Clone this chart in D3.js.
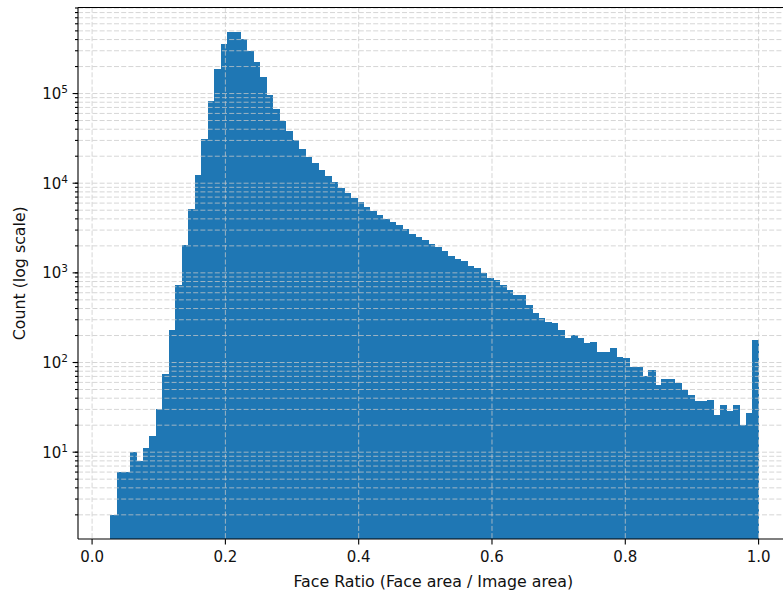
<!DOCTYPE html>
<html>
<head>
<meta charset="utf-8">
<script src="https://cdn.jsdelivr.net/npm/d3@7"></script>
<style>
body { margin:0; background:#fff; }
svg { display:block; font-family:"DejaVu Sans", sans-serif; }
.gridLine { stroke:#c8c8c8; stroke-opacity:0.75; stroke-width:1; stroke-dasharray:5,2.2; fill:none; }
.spine { stroke:#000; stroke-width:1.1; fill:none; }
.tick-mark { stroke:#000; stroke-width:1.1; }
.tickText { font-size:15px; fill:#111; }
.axisLabel { font-size:15.8px; fill:#111; }
.bar { fill:#1f77b4; shape-rendering:crispEdges; }
</style>
</head>
<body>
<div id="chart"></div>
<script>
/* histogram of face ratio, 100 bins, counts */
var binStart = 0.0275
var binEnd = 1.0
var counts = [
  2, 6, 6, 10, 8, 11, 15, 30, 75, 230,
  730, 2040, 5100, 12500, 31500, 82000, 190000, 354000, 490000, 485000,
  402000, 296000, 225000, 151000, 95700, 67500, 49500, 38000, 30200, 23800,
  19700, 17000, 14200, 12000, 10300, 8880, 7810, 6760, 6100, 5450,
  4920, 4400, 3970, 3650, 3380, 3050, 2710, 2500, 2300, 2090,
  1950, 1760, 1540, 1440, 1350, 1190, 1120, 1000, 870, 830,
  730, 645, 566, 560, 443, 354, 314, 285, 276, 230,
  186, 205, 186, 164, 171, 132, 131, 144, 116, 111,
  89, 88, 71, 83, 56, 65, 65, 59, 50, 43,
  37, 37, 38, 26, 34, 29, 34, 20, 27, 178
]
var xTicks = [0.0, 0.2, 0.4, 0.6, 0.8, 1.0]
var xTickLabels = ["0.0", "0.2", "0.4", "0.6", "0.8", "1.0"]
var yDecades = [1, 2, 3, 4, 5]
var xTitle = "Face Ratio (Face area / Image area)"
var yTitle = "Count (log scale)"

var W = 783
var H = 592
var plotLeft = 78
var plotRight = 791
var plotTop = 7.5
var plotBottom = 539

var svg = d3.select("#chart").append("svg")
  .attr("width", W)
  .attr("height", H)

/* scales: matplotlib style 5% margins */
var nBins = counts.length
var edgeScale = d3.scaleLinear()
  .domain([0, nBins])
  .range([binStart, binEnd])
var xPad = (binEnd - binStart) * 0.05
var xScale = d3.scaleLinear()
  .domain([binStart - xPad, binEnd + xPad])
  .range([plotLeft, plotRight])

var logMin = Math.log10(d3.min(counts))
var logMax = Math.log10(d3.max(counts))
var logPad = (logMax - logMin) * 0.05
var yScale = d3.scaleLog()
  .domain([Math.pow(10, logMin - logPad), Math.pow(10, logMax + logPad)])
  .range([plotBottom, plotTop])

function barX(d, i) { return xScale(edgeScale(i)) }
function barW(d, i) { return xScale(edgeScale(i + 1)) - xScale(edgeScale(i)) }
function barY(d) { return yScale(d) }
function barH(d) { return plotBottom - yScale(d) }

/* bars */
svg.append("g")
  .selectAll("rect")
  .data(counts)
  .enter()
  .append("rect")
  .attr("class", "bar")
  .attr("x", barX)
  .attr("width", function(d, i) { return barW(d, i) + 0.8 })
  .attr("y", barY)
  .attr("height", barH)

/* grid, drawn over the bars */
var yDom = yScale.domain()
var yGridVals = []
d3.range(0, 7).forEach(function(k) {
  d3.range(1, 10).forEach(function(m) {
    var v = m * Math.pow(10, k)
    if (v >= yDom[0] && v <= yDom[1]) yGridVals.push(v)
  })
})

var gridG = svg.append("g")
gridG.selectAll("line.hz")
  .data(yGridVals)
  .enter()
  .append("line")
  .attr("class", "gridLine hz")
  .attr("x1", plotLeft)
  .attr("x2", plotRight)
  .attr("y1", function(d) { return yScale(d) })
  .attr("y2", function(d) { return yScale(d) })
gridG.selectAll("line.vt")
  .data(xTicks)
  .enter()
  .append("line")
  .attr("class", "gridLine vt")
  .attr("x1", function(d) { return xScale(d) })
  .attr("x2", function(d) { return xScale(d) })
  .attr("y1", plotTop)
  .attr("y2", plotBottom)

/* spines */
svg.append("line").attr("class", "spine")
  .attr("x1", plotLeft).attr("x2", plotLeft).attr("y1", plotTop).attr("y2", plotBottom)
svg.append("line").attr("class", "spine")
  .attr("x1", plotLeft).attr("x2", plotRight).attr("y1", plotBottom).attr("y2", plotBottom)
svg.append("line").attr("class", "spine")
  .attr("x1", plotLeft).attr("x2", plotRight).attr("y1", plotTop).attr("y2", plotTop)

/* x ticks */
var xTickG = svg.append("g")
xTickG.selectAll("line")
  .data(xTicks)
  .enter()
  .append("line")
  .attr("class", "tick-mark")
  .attr("x1", function(d) { return xScale(d) })
  .attr("x2", function(d) { return xScale(d) })
  .attr("y1", plotBottom)
  .attr("y2", plotBottom + 5.4)
xTickG.selectAll("text")
  .data(xTicks)
  .enter()
  .append("text")
  .attr("class", "tickText")
  .attr("text-anchor", "middle")
  .attr("x", function(d) { return xScale(d) })
  .attr("y", 562)
  .text(function(d, i) { return xTickLabels[i] })

/* y ticks, major and minor */
var yTickG = svg.append("g")
yTickG.selectAll("line.minor")
  .data(yGridVals)
  .enter()
  .append("line")
  .attr("class", "tick-mark minor")
  .attr("x1", plotLeft - 3)
  .attr("x2", plotLeft)
  .attr("y1", function(d) { return yScale(d) })
  .attr("y2", function(d) { return yScale(d) })
yTickG.selectAll("line.major")
  .data(yDecades)
  .enter()
  .append("line")
  .attr("class", "tick-mark major")
  .attr("x1", plotLeft - 5.4)
  .attr("x2", plotLeft)
  .attr("y1", function(d) { return yScale(Math.pow(10, d)) })
  .attr("y2", function(d) { return yScale(Math.pow(10, d)) })
var yLab = yTickG.selectAll("text")
  .data(yDecades)
  .enter()
  .append("text")
  .attr("class", "tickText")
  .attr("text-anchor", "end")
  .attr("x", plotLeft - 10)
  .attr("y", function(d) { return yScale(Math.pow(10, d)) + 5.5 })
yLab.append("tspan").text("10")
yLab.append("tspan")
  .attr("dy", -6)
  .attr("font-size", "10.5px")
  .text(function(d) { return d })

/* axis titles */
svg.append("text")
  .attr("class", "axisLabel")
  .attr("text-anchor", "middle")
  .attr("x", (xScale(0) + xScale(1)) / 2 + 8)
  .attr("y", 587)
  .text(xTitle)
svg.append("text")
  .attr("class", "axisLabel")
  .attr("text-anchor", "middle")
  .attr("transform", "translate(25," + ((plotTop + plotBottom) / 2) + ") rotate(-90)")
  .text(yTitle)
</script>
</body>
</html>
